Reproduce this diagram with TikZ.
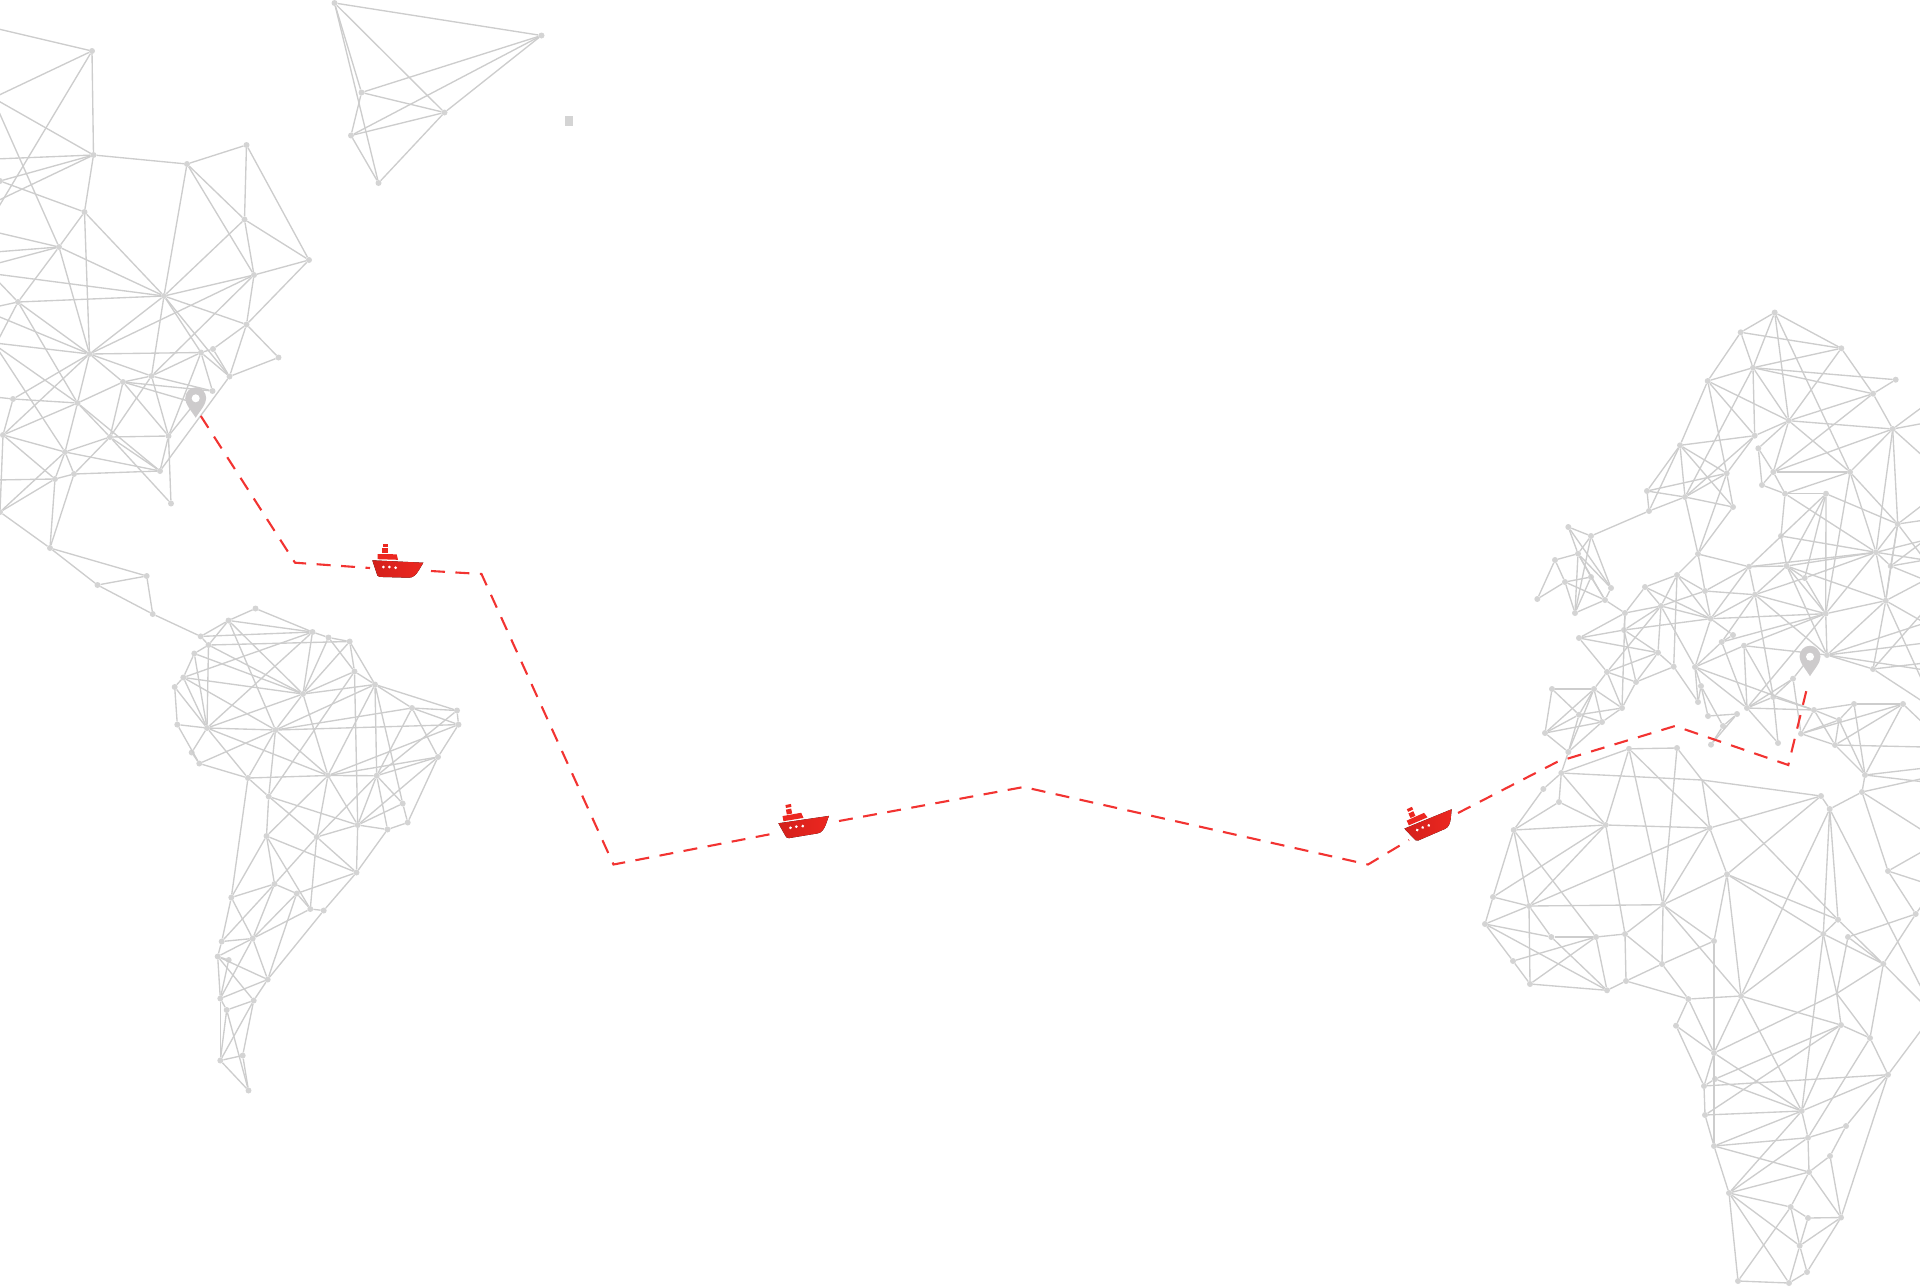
\documentclass[tikz,border=0pt]{standalone}
\definecolor{meshGray}{HTML}{CDCDCD}
\definecolor{dotGray}{HTML}{D4D4D4}
\definecolor{pinGray}{HTML}{CDCBCC}
\definecolor{routeRed}{HTML}{F23331}
\definecolor{shipRed}{HTML}{EC2720}
\definecolor{shipDark}{HTML}{D3201B}
\usepackage{tikz}
\usetikzlibrary{arrows.meta,positioning,calc}

\begin{document}
\begin{tikzpicture}[
    x=1pt, y=-1pt,
    mesh/.style={draw=meshGray, line width=1.35pt},
    meshdot/.style={circle, fill=dotGray, inner sep=0pt, minimum size=6pt},
    route/.style={draw=routeRed, line width=2.1pt, dash pattern=on 14pt off 10.5pt},
    mappin/.pic={
      \fill[pinGray] (0,19.5) .. controls (-4,13) and (-10.5,6) .. (-10.5,0)
        .. controls (-10.5,-6) and (-6,-11) .. (0,-11)
        .. controls (6,-11) and (10.5,-6) .. (10.5,0)
        .. controls (10.5,6) and (4,13) .. (0,19.5) -- cycle;
      \fill[white] (0,0) circle (4pt);
    },
    shipmark/.pic={
      \fill[left color=shipDark, right color=shipRed] (-25.7,-4.7) -- (25.3,-2.3) -- (21,5)
        .. controls (18,10) and (15,12.7) .. (11,12.7) -- (-18.3,11.9)
        .. controls (-20.5,11.7) and (-21,10) .. (-21.5,8) -- cycle;
      \fill[shipRed] (-20.3,-11) -- (-1.3,-10.7) -- (0,-5.2) -- (-20.3,-5.8) -- cycle;
      \fill[shipRed] (-15.7,-16.7) rectangle (-10.3,-11.7);
      \fill[shipRed] (-15.3,-21.3) rectangle (-9.7,-18.3);
      \fill[white] (-14.7,2) circle (1.5pt) (-8.7,2) circle (1.5pt) (-2.3,2.7) circle (1.5pt);
    }
  ]
    \useasboundingbox (0,0) rectangle (1920,1286);
    \clip (0,0) rectangle (1920,1286);

    % North America
    \foreach \nm/\px/\py in {n1/92/51,n2/93.5/155,n3/187/164,n4/84.5/212,n5/59/247,n6/18/302,n7/164/296,
      n8/246.5/145,n9/244.5/219.5,n10/309/260,n11/254/275,n12/246.5/324.5,n13/278.5/357.5,n14/213/349,
      n15/201/352.5,n16/229.5/376.5,n17/212.5/391,n18/151.5/376,n19/89.5/354,n20/123/382,n21/168.5/436,
      n22/160/471,n23/171/503.5,n24/110/437,n25/65/452,n26/74/474,n27/55/479,n28/50/548,n29/77.5/403,
      n30/13/399,n31/3/435,n32/0/512,n33/97.5/585,n34/146.7/576,n35/152.7/614,pina/195/403,
      l1/-10/27,l2/-5/97,l3/-5/213,l4/-5/99,l5/-5/159,l6/0/181,l7/-5/202,l8/-5/103,l9/-5/232,l10/-5/252,
      l11/-5/264,l12/-5/274,l13/-5/278,l14/-5/307,l15/-5/346,l16/-5/397,l17/-5/343,l18/-5/345,l19/-5/480,
      l20/-5/315} {
      \node[meshdot] (\nm) at (\px,\py) {};
    }
    \foreach \from/\to in {n1/l1,n1/l2,n1/l3,n1/n2,n2/l4,n2/l5,n2/l6,n2/l7,n2/n3,n2/n4,n4/l6,n4/n5,n4/n7,n4/n19,
      l8/n5,n5/l9,n5/l10,n5/l11,n5/n6,n5/n7,n5/n19,l12/n7,n6/l13,n6/l14,n6/l15,n6/n7,n6/n19,n6/n29,
      n3/n7,n3/n8,n3/n9,n3/n11,n8/n9,n8/n10,n9/n10,n9/n11,n9/n7,n10/n11,n10/n12,n7/n11,n7/n12,n7/n15,n7/n16,
      n7/n18,n7/n19,n11/n12,n11/n18,n11/n19,n12/n13,n12/n14,n12/n16,n14/n15,n14/n16,n15/n16,n15/n17,n15/n18,n15/n19,
      n15/n21,n16/n13,n16/n22,n18/n19,n18/n20,n18/n21,n18/n24,n18/n17,n20/n17,n20/pina,n21/pina,n21/n20,n21/n22,n21/n23,
      n21/n24,n20/n19,n20/n24,n20/n29,n29/n22,n29/n24,n24/n23,n24/n22,n24/n25,n24/n26,n25/n22,n25/n29,n25/n26,n25/n27,
      n25/n31,n25/l18,n25/n32,n19/n29,n19/n30,n19/n31,n19/l17,n19/l20,n29/n30,n29/n31,n29/l18,n26/n22,n26/n27,n26/n28,
      n27/n28,n27/n31,n27/l19,n27/n32,n28/n32,n28/n33,n28/n34,n33/n34,n33/n35,n34/n35,n31/n32,n31/n30,n30/l16} {
      \draw[mesh] (\from) -- (\to);
    }

    % Greenland
    \foreach \nm/\px/\py in {g1/334.5/3,g2/541.5/35.5,g3/361.5/92.5,g4/444.5/112.5,g5/351/135.5,g6/378.5/183} {
      \node[meshdot] (\nm) at (\px,\py) {};
    }
    \foreach \from/\to in {g1/g2,g1/g4,g1/g3,g1/g6,g2/g3,g2/g5,g2/g4,g3/g4,g3/g5,g4/g5,g4/g6,g5/g6} {
      \draw[mesh] (\from) -- (\to);
    }
    \fill[dotGray] (565,116) rectangle (572.5,126);

    % South America
    \foreach \nm/\px/\py in {s1/200.7/636.4,s2/255.5/608.5,s3/228.5/620.5,s4/208.5/645,s5/312.5/632,s6/328.5/637.5,
      s7/349.7/641.5,s8/194.3/653.5,s9/183.3/677.5,s10/174.7/687,s11/177.3/724.6,s12/207/728,s13/303/694,s14/354.5/671.5,
      s15/375/684.5,s16/412/708,s17/457/710.5,s18/458.5/724.6,s19/275.5/730,s20/191.7/752.5,s21/199.3/763.5,s22/248/778,
      s23/328/775.5,s24/376.7/775.7,s25/438/757,s26/268.7/796.5,s27/402.7/803.5,s28/407.7/822.5,s29/357.7/825,s30/387.5/829.5,
      s31/266.5/836,s32/316.7/837,s33/356.5/872.5,s34/274.5/884,s35/296.7/893.5,s36/231.3/897.5,s37/310.3/909,s38/323.7/910.5,
      s39/252.7/938.5,s40/221.7/941.5,s41/217.7/956.5,s42/228.7/960,s43/267.7/979.5,s44/220.3/998.5,s45/253.7/1000.5,
      s46/226.7/1010,s47/220.3/1060.5,s48/242.7/1055.5,s49/248.5/1090.5} {
      \node[meshdot] (\nm) at (\px,\py) {};
    }
    \foreach \from/\to in {n35/s1,s1/s3,s1/s5,s1/s4,s2/s3,s2/s5,s3/s5,s3/s4,s3/s13,s3/s19,s4/s7,s4/s12,s4/s8,s4/s13,
      s5/s6,s5/s13,s5/s12,s5/s9,s6/s7,s6/s13,s6/s14,s7/s14,s7/s15,s7/s13,s8/s9,s8/s12,s8/s13,s9/s10,s9/s12,s9/s13,s9/s19,
      s10/s11,s10/s12,s11/s12,s11/s21,s12/s19,s12/s23,s12/s22,s12/s20,s12/s13,s19/s21,s20/s21,s21/s22,s13/s14,s13/s15,s13/s19,
      s13/s23,s14/s15,s14/s29,s14/s26,s15/s16,s15/s17,s15/s24,s15/s19,s15/s23,s15/s27,s16/s17,s16/s18,s16/s19,s16/s24,s16/s25,
      s17/s18,s17/s24,s18/s25,s18/s23,s18/s19,s19/s22,s19/s23,s19/s26,s22/s23,s22/s26,s22/s36,s23/s24,s23/s25,s23/s29,s23/s31,
      s23/s32,s24/s25,s24/s27,s24/s29,s24/s30,s24/s32,s25/s29,s25/s28,s27/s28,s27/s29,s26/s29,s26/s31,s26/s32,s28/s30,s29/s30,
      s29/s32,s29/s33,s30/s33,s31/s33,s31/s34,s31/s36,s31/s37,s32/s33,s32/s34,s32/s37,s33/s35,s33/s38,s34/s35,s34/s36,s34/s39,
      s34/s40,s35/s37,s35/s39,s35/s43,s37/s38,s37/s39,s38/s43,s36/s39,s36/s40,s39/s40,s39/s41,s39/s43,s39/s44,s40/s41,s41/s42,
      s41/s43,s41/s44,s41/s45,s42/s44,s43/s44,s43/s45,s45/s46,s44/s46,s45/s47,s45/s48,s44/s47,s46/s47,s46/s49,s47/s48,s47/s49,
      s48/s49} {
      \draw[mesh] (\from) -- (\to);
    }

    % Europe
    \foreach \nm/\px/\py in {e1/1774.7/312.5,e2/1740.7/332.3,e3/1841.3/348.3,e4/1753/367.7,e5/1707.7/381,e6/1895.7/379.7,
      e7/1873/393.7,e8/1788.7/420.7,e9/1892.7/429,e10/1754.7/435.7,e11/1680/445.3,e12/1758.3/448.3,e13/1773.3/472,e14/1850/472,
      e15/1762/485,e16/1726.7/473.3,e17/1785/493.7,e18/1826/493.7,e19/1647/491,e20/1685/497,e21/1733/507,e22/1649/511,e23/1781/536,
      e24/1568.3/527,e25/1591/536,e26/1897.7/524,e27/1555/560,e28/1578/553.7,e29/1698/554,e30/1876/552.3,e31/1786.7/566,e32/1749/566.7,
      e33/1890.7/566,e34/1804.7/578,e35/1565/582,e36/1591/577,e37/1611/588,e38/1537.3/599,e39/1605/600,e40/1575/613,e41/1677/575,
      e42/1645/587,e43/1705/591,e44/1755/594.7,e45/1625/613,e46/1661/606,e47/1710.7/618.7,e48/1825.7/613.7,e49/1885.7/600.7,
      e50/1624/630,e51/1579/638,e52/1733/635,e53/1721.7/642,e54/1744/645.7,e55/1827/655,e56/1873/669,e57/1658/652.7,e58/1607/672,
      e59/1673.7/666.7,e60/1695/667,e61/1636/682,e62/1552/689,e63/1594/689,e64/1701/686,e65/1698/702,e66/1793/678.7,e67/1773.3/697,
      e68/1747/708,e69/1622/708,e70/1579/714.7,e71/1602/722,e72/1545/733,e73/1708/716,e74/1737/714,e75/1723/726,e76/1711/744.7,
      e77/1778/743,e78/1568.3/752,e79/1814/710,e80/1839/720,e81/1854/704,e82/1903/704,e83/1801/733.7,e84/1835/745,pinb/1810/657,
      r1/1925/405,r2/1925/423,r3/1925/458,r4/1925/503,r5/1925/520,r6/1925/560,r7/1925/540,r8/1925/580,r9/1925/610,r10/1925/623,
      r11/1925/643,r12/1925/663,r13/1925/670,r14/1925/687,r15/1925/703,r16/1925/768,r17/1925/782,r18/1925/850,r19/1925/995,
      r20/1925/1006,r21/1925/1025,r22/1925/901,r23/1925/853,r24/1925/883,r25/1925/832,r26/1925/778,r27/1925/725,r28/1925/747} {
      \node[meshdot] (\nm) at (\px,\py) {};
    }
    \foreach \from/\to in {e1/e2,e1/e3,e1/e4,e1/e8,e1/e14,e2/e3,e2/e4,e2/e5,e3/e4,e3/e7,e3/e8,e4/e5,e4/e6,e4/e7,e4/e8,e4/e10,e4/e20,
      e5/e8,e5/e10,e5/e11,e5/e16,e6/e7,e7/e8,e7/e9,e7/e13,e8/e9,e8/e10,e8/e12,e8/e13,e8/e14,e9/e14,e9/e13,e9/e26,e9/e30,e9/r1,e9/r2,e9/r3,
      e10/e11,e10/e16,e10/e20,e11/e16,e11/e19,e11/e20,e11/e21,e11/e22,e12/e13,e12/e15,e13/e14,e13/e15,e13/e17,e14/e17,e14/e26,e14/e30,e14/e48,
      e15/e17,e17/e18,e17/e23,e17/e30,e18/e32,e18/e31,e18/e48,e18/e26,e18/e34,e16/e19,e16/e20,e16/e21,e16/e29,e19/e20,e19/e22,e20/e22,e20/e21,
      e20/e29,e21/e29,e22/e25,e23/e30,e23/e31,e24/e25,e24/e28,e24/e37,e25/e28,e25/e37,e25/e40,e27/e28,e27/e35,e27/e38,e28/e36,e28/e37,
      e28/e39,e28/e40,e35/e36,e35/e38,e35/e39,e35/e40,e36/e39,e36/e40,e37/e39,e39/e40,e39/e45,e45/e42,e45/e46,e45/e50,e45/e51,e45/e69,
      e29/e32,e29/e41,e29/e43,e30/e31,e30/e32,e30/e33,e30/e34,e30/e48,e30/e49,e30/r7,e30/r6,e26/e30,e26/e33,e26/e49,e26/r4,
      e26/r5,e26/r6,e31/e32,e31/e34,e31/e44,e31/e48,e31/e49,e31/e55,e32/e43,e32/e44,e32/e47,e33/r7,e33/r6,e33/r8,e33/e49,e34/e44,e34/e48,
      e41/e42,e41/e43,e41/e46,e41/e47,e41/e59,e42/e46,e42/e47,e43/e44,e43/e47,e43/e46,e44/e47,e44/e48,e44/e53,e44/e55,e44/e67,e46/e47,e46/e50,
      e46/e57,e46/e60,e46/e58,e47/e48,e47/e50,e47/e52,e47/e60,e48/e49,e48/e53,e48/e54,e48/e55,e48/e68,e49/e55,e49/e56,e49/r8,e49/r10,e49/r14,
      e50/e51,e50/e57,e50/e61,e51/e58,e51/e57,e52/e53,e53/e60,e53/e68,e54/e55,e54/e60,e54/e68,e54/e67,e55/e56,e55/r13,e55/r10,e55/r11,
      e56/r9,e56/r12,e56/r15,e57/e58,e57/e59,e57/e61,e58/e61,e58/e69,e58/e63,e59/e61,e59/e65,e60/e64,e60/e65,e60/e68,e60/e79,e61/e69,
      e62/e63,e62/e70,e62/e72,e63/e69,e63/e70,e63/e71,e63/e72,e63/e78,e69/e70,e69/e71,e70/e71,e70/e72,e70/e78,e71/e72,e71/e78,e72/e78,
      e64/e65,e64/e73,e64/e75,e73/e74,e74/e75,e74/e76,e75/e76,e66/e68,e66/e67,e66/e83,e66/pinb,e67/e68,e67/e77,e67/e79,e68/e77,e68/e79,
      e79/e80,e79/e81,e79/e83,e79/e84,e80/e81,e80/e83,e80/e84,e81/e82,e82/e84,e82/e83,e83/e84,e82/r27,e84/r28} {
      \draw[mesh] (\from) -- (\to);
    }

    % Africa
    \coordinate (a9) at (1702,780);
    \coordinate (a51) at (1836.7,993.5);
    \foreach \nm/\px/\py in {a1/1629/748.8,a2/1677/748,a3/1561.3/773,a4/1543.3/789,a5/1559/802,a6/1513.7/830,a7/1605.7/825,a8/1709.7/828,
      a10/1821/796,a11/1829.7/809,a12/1727/874.3,a13/1493/897,a14/1529/906,a15/1663/904.7,a16/1485/924,a17/1551.3/937,a18/1596/937,a19/1625/934,
      a20/1714/941,a21/1513/961,a22/1662/964,a23/1530/984,a24/1607/990.3,a25/1626/981,a26/1688.3/999,a27/1741/996,a28/1676/1025.7,a29/1714/1053,
      a30/1704/1086,a31/1715/1079,a32/1705/1115,a33/1714/1146,a34/1729/1193,a35/1801.7/1111,a36/1808/1137.7,a37/1809/1172,a38/1846/1126,a39/1830/1156,
      a40/1841/1217.5,a41/1808/1218,a42/1790.7/1207,a43/1799.7/1245.7,a44/1807/1272,a45/1738/1281,a46/1789/1283,a47/1823.3/934,a48/1838/919.7,
      a49/1848/937,a50/1883.3/964,a52/1841/1025,a53/1870/1038,a54/1888/1074.7,a56/1915.7/914,a57/1888/871,a58/1862/792,a59/1865/775} {
      \node[meshdot] (\nm) at (\px,\py) {};
    }
    \foreach \from/\to in {e78/a3,a1/a2,a1/a3,a1/a7,a1/a8,a1/a15,a2/a15,a2/a9,a9/a48,a3/a9,a9/a10,a9/a8,a3/a4,a3/a5,a3/a7,a4/a6,a5/a6,a5/a7,
      a6/a7,a6/a13,a6/a14,a6/a18,a7/a8,a7/a13,a7/a14,a7/a19,a8/a10,a8/a12,a8/a14,a8/a15,a10/a11,a10/a12,a11/a58,a11/a48,a11/a47,a11/a27,a11/r19,
      a12/a15,a12/a20,a12/a27,a12/a48,a12/a47,a47/a50,a13/a14,a13/a16,a14/a15,a14/a16,a14/a17,a14/a23,a15/a19,a15/a20,a15/a22,a15/a27,
      a16/a17,a16/a21,a16/a24,a21/a23,a17/a18,a17/a24,a18/a19,a18/a21,a18/a23,a18/a24,a19/a22,a19/a25,a20/a22,a20/a29,a22/a25,a22/a26,
      a23/a24,a24/a25,a25/a26,a26/a27,a26/a28,a26/a29,a27/a29,a27/a35,a27/a47,a27/a52,a28/a29,a28/a30,a29/a30,a29/a35,a29/a51,a51/a50,a29/a33,
      a30/a31,a30/a32,a30/a54,a31/a35,a31/a52,a32/a35,a32/a33,a32/a52,a33/a35,a33/a36,a33/a37,a34/a33,a34/a35,a34/a36,a34/a37,a34/a42,a34/a43,
      a34/a46,a34/a45,a35/a36,a35/a47,a35/a52,a35/a54,a36/a37,a36/a38,a36/a53,a38/a39,a38/a54,a37/a39,a37/a40,a37/a42,a39/a40,a40/a54,a40/a41,
      a40/a43,a41/a42,a41/a43,a42/a43,a42/a45,a43/a44,a43/a46,a44/a46,a44/a40,a45/a46,a47/a48,a47/a51,a49/a50,a49/a56,a49/a51,a48/a50,
      a51/a52,a51/a53,a50/a53,a50/a56,a50/r20,a52/a53,a53/a54,a54/r21,a56/a57,a56/r22,a57/a58,a57/r18,a57/r24,a58/r25,a58/r26,a58/a59,
      a59/e82,a59/e81,a59/e84,a59/e80,a59/r16,a59/r17} {
      \draw[mesh] (\from) -- (\to);
    }

    % Pins
    \pic (pinA) at (195.7,398.3) {mappin};
    \pic (pinB) at (1810,656.7) {mappin};

    % Ships
    \pic (shipA) at (398,565) {shipmark};
    \pic[rotate=11] (shipB) at (804.5,823) {shipmark};
    \pic[rotate=25] (shipC) at (1429.7,822) {shipmark};

    % Route
    \coordinate (routeStart) at (200.8,416);
    \coordinate (bendA) at (295,562.7);
    \coordinate (stopA) at (370,568);
    \coordinate (goB) at (431,571);
    \coordinate (bendB) at (481.5,574);
    \coordinate (bendC) at (613.5,864.5);
    \coordinate (stopB) at (779,832.5);
    \coordinate (goC) at (839,821);
    \coordinate (bendD) at (1023.7,787);
    \coordinate (bendE) at (1368,864.5);
    \coordinate (stopC) at (1409,840);
    \coordinate (goD) at (1458,813);
    \coordinate (bendF) at (1557.5,761.7);
    \coordinate (bendG) at (1675,726);
    \coordinate (bendH) at (1788.3,765);
    \coordinate (routeEnd) at (1807.5,686);
    \draw[route] (routeStart) -- (bendA) -- (stopA);
    \draw[route] (goB) -- (bendB) -- (bendC) -- (stopB);
    \draw[route] (goC) -- (bendD) -- (bendE) -- (stopC);
    \draw[route] (goD) -- (bendF) -- (bendG) -- (bendH) -- (routeEnd);
  \end{tikzpicture}
\end{document}
